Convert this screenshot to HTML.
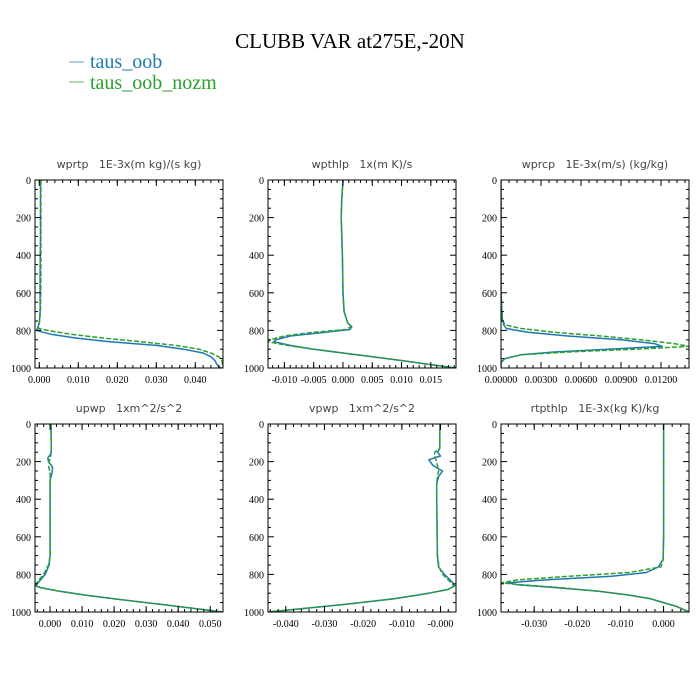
<!DOCTYPE html>
<html><head><meta charset="utf-8"><style>
body{margin:0;background:#fff;width:700px;height:700px;overflow:hidden}
svg{display:block}
.pt{white-space:pre}
</style></head><body>
<svg id="chart" width="700" height="700" xmlns="http://www.w3.org/2000/svg">
<text x="350" y="48" text-anchor="middle" font-family="Liberation Serif, serif" font-size="21" fill="#000">CLUBB VAR at275E,-20N</text>
<g>
<line x1="69" y1="62" x2="84" y2="62" stroke="#7aaed6" stroke-width="1.2"/>
<text x="90" y="68" font-family="Liberation Serif, serif" font-size="20" fill="#1f77b4">taus_oob</text>
<line x1="69" y1="82" x2="84" y2="82" stroke="#7cc27c" stroke-width="1.2"/>
<text x="90" y="89" font-family="Liberation Serif, serif" font-size="20" fill="#2ca02c">taus_oob_nozm</text>
</g>
</svg>
<script>
// panel 1 wprtp
const lev1=[0,100,300,500,700,760,790,800,810,820,840,860,880,900,920,940,960,980,1000];
const blue1=[0.0003,0.0003,0.0003,0.0002,0.0002,0.0,-0.0005,-0.0006,0.001,0.003,0.009,0.018,0.030,0.037,0.042,0.044,0.045,0.0455,0.0465];
const green1=[0.0004,0.0004,0.0004,0.0004,0.0003,0.0,-0.0002,0.002,0.005,0.008,0.016,0.026,0.035,0.041,0.044,0.046,0.0468,0.047,0.047];
// panel 2 wpthlp
const lev2=[0,100,200,400,600,700,760,780,795,810,830,850,860,880,900,920,940,960,980,1000];
const blue2=[0.0,-0.0002,-0.0003,-0.0001,0.0,0.0002,0.0008,0.0015,0.0012,-0.003,-0.009,-0.0115,-0.0118,-0.009,-0.005,0.0,0.005,0.010,0.0145,0.0193];
const green2=[0.0,-0.0002,-0.0003,-0.0001,0.0,0.0002,0.0008,0.0014,0.0005,-0.005,-0.010,-0.0125,-0.0128,-0.0095,-0.005,0.0,0.005,0.010,0.0145,0.0193];
// panel 3 wprcp
const lev3=[0,300,600,740,770,790,810,830,850,870,885,900,915,930,950,970,1000];
const blue3=[0,0,0,0.0001,0.0002,0.0004,0.002,0.005,0.009,0.0115,0.0121,0.008,0.004,0.0015,0.0003,0.0,0.0];
const green3=[0,0,0,0.0001,0.0003,0.0015,0.004,0.0075,0.0105,0.013,0.0141,0.010,0.005,0.0015,0.0003,0.0,0.0];
// panel 4 upwp
const lev4=[0,140,160,180,200,230,260,300,400,700,750,800,830,860,870,890,910,930,960,1000];
const blue4=[0.0003,0.0004,0.0002,-0.0007,-0.0005,0.0008,0.0006,0.0,0.0,0.0,-0.0003,-0.0015,-0.003,-0.0045,-0.003,0.003,0.011,0.020,0.035,0.054];
const green4=[0.0003,0.0004,0.0003,0.0,-0.0002,-0.0004,0.0,0.0,0.0,0.0,-0.0005,-0.002,-0.0035,-0.0047,-0.003,0.003,0.011,0.020,0.035,0.054];
// panel 5 vpwp
const lev5=[0,130,150,170,190,220,250,280,320,400,700,760,800,840,860,880,900,930,960,1000];
const blue5=[-0.0002,-0.0002,-0.0008,0.0,-0.003,-0.002,0.0005,-0.0005,-0.001,-0.001,-0.0008,-0.0005,0.001,0.003,0.0037,0.002,-0.003,-0.012,-0.025,-0.0446];
const green5=[-0.0002,-0.0002,-0.0015,-0.0015,-0.0012,-0.0008,-0.0005,-0.0008,-0.001,-0.001,-0.0008,-0.0004,0.0005,0.0025,0.0035,0.002,-0.003,-0.012,-0.025,-0.0446];
// panel 6 rtpthlp
const lev6=[0,300,600,720,760,790,810,830,845,855,870,890,910,930,950,970,1000];
const blue6=[0,0,0,-0.0001,-0.0012,-0.004,-0.012,-0.028,-0.036,-0.034,-0.025,-0.015,-0.008,-0.003,0.0,0.003,0.0059];
const green6=[0,0,0,-0.0001,-0.0006,-0.008,-0.022,-0.034,-0.0377,-0.033,-0.024,-0.015,-0.008,-0.003,0.0,0.003,0.0059];
// titles and tick labels
const titles=["wprtp   1E-3x(m kg)/(s kg)","wpthlp   1x(m K)/s","wprcp   1E-3x(m/s) (kg/kg)","upwp   1xm^2/s^2","vpwp   1xm^2/s^2","rtpthlp   1E-3x(kg K)/kg"];
const yTicks=[0,200,400,600,800,1000];
const xTicks1=[0,0.01,0.02,0.03,0.04];const xLab1=["0.000","0.010","0.020","0.030","0.040"];
const xTicks2=[-0.01,-0.005,0,0.005,0.01,0.015];const xLab2=["-0.010","-0.005","0.000","0.005","0.010","0.015"];
const xTicks3=[0,0.003,0.006,0.009,0.012];const xLab3=["0.00000","0.00300","0.00600","0.00900","0.01200"];
const xTicks4=[0,0.01,0.02,0.03,0.04,0.05];const xLab4=["0.000","0.010","0.020","0.030","0.040","0.050"];
const xTicks5=[-0.04,-0.03,-0.02,-0.01,0];const xLab5=["-0.040","-0.030","-0.020","-0.010","-0.000"];
const xTicks6=[-0.03,-0.02,-0.01,0];const xLab6=["-0.030","-0.020","-0.010","0.000"];

const NS="http://www.w3.org/2000/svg";
const svg=document.getElementById('chart');
function mk(tag,attrs,parent){const e=document.createElementNS(NS,tag);for(const k in attrs)e.setAttribute(k,attrs[k]);(parent||svg).appendChild(e);return e;}
const panels=[
 {x0:35,y0:180,xmin:-0.0011,xmax:0.0471,minor:0.002,lev:lev1,b:blue1,g:green1,xt:xTicks1,xl:xLab1},
 {x0:268,y0:180,xmin:-0.0128,xmax:0.0193,minor:0.001,lev:lev2,b:blue2,g:green2,xt:xTicks2,xl:xLab2},
 {x0:501,y0:180,xmin:0,xmax:0.0141,minor:0.0006,lev:lev3,b:blue3,g:green3,xt:xTicks3,xl:xLab3},
 {x0:35,y0:424,xmin:-0.0047,xmax:0.054,minor:0.002,lev:lev4,b:blue4,g:green4,xt:xTicks4,xl:xLab4},
 {x0:268,y0:424,xmin:-0.0446,xmax:0.004,minor:0.002,lev:lev5,b:blue5,g:green5,xt:xTicks5,xl:xLab5},
 {x0:501,y0:424,xmin:-0.0377,xmax:0.0059,minor:0.002,lev:lev6,b:blue6,g:green6,xt:xTicks6,xl:xLab6}
];
const W=188,H=188;
panels.forEach((P,i)=>{
 const g=mk('g',{});
 
 
 const sx=v=>P.x0+(v-P.xmin)/(P.xmax-P.xmin)*W;
 const sy=p=>P.y0+p/1000*H;
 const t=mk('text',{x:P.x0+W/2,y:P.y0-12,'text-anchor':'middle','font-family':'DejaVu Sans, sans-serif','font-size':'11','fill':'#444','class':'pt'},g);
 t.textContent=titles[i];
 
 
 const clip=mk('clipPath',{id:'c'+i},g);mk('rect',{x:P.x0,y:P.y0,width:W,height:H},clip);
 [[P.b,'#1f77b4',''],[P.g,'#2ca02c','5,2']].forEach((s,k)=>{
  const pts=s[0].map((v,j)=>sx(v).toFixed(1)+','+sy(P.lev[j]).toFixed(1)).join(' ');
  const pl=mk('polyline',{points:pts,fill:'none',stroke:s[1],'stroke-width':'1.5','stroke-linejoin':'round','clip-path':'url(#c'+i+')'},g);
  if(s[2])pl.setAttribute('stroke-dasharray',s[2]);
  
  
 });
 const fr=mk('rect',{x:P.x0,y:P.y0,width:W,height:H,fill:'none',stroke:'#000','stroke-width':'1'},g);
 
 
 for(let p=0;p<=1000;p+=50){
  const len=(p%200===0)?6:3;const y=sy(p);
  mk('line',{x1:P.x0,y1:y,x2:P.x0+len,y2:y,stroke:'#000','stroke-width':'1'},g);
  mk('line',{x1:P.x0+W,y1:y,x2:P.x0+W-len,y2:y,stroke:'#000','stroke-width':'1'},g);
 }
 yTicks.forEach(p=>{
  const tl=mk('text',{x:P.x0-4,y:sy(p)+4,'text-anchor':'end','font-family':'Liberation Serif, serif','font-size':'10'},g);
  tl.textContent=String(p);
  
  
 });
 const start=Math.ceil(P.xmin/P.minor-1e-6);
 for(let k=start;k*P.minor<=P.xmax+1e-9;k++){
  const v=k*P.minor;const x=sx(v);
  mk('line',{x1:x,y1:P.y0+H,x2:x,y2:P.y0+H-3,stroke:'#000','stroke-width':'1'},g);
  mk('line',{x1:x,y1:P.y0,x2:x,y2:P.y0+3,stroke:'#000','stroke-width':'1'},g);
 }
 P.xt.forEach((v,j)=>{
  const x=sx(v);
  mk('line',{x1:x,y1:P.y0+H,x2:x,y2:P.y0+H-6,stroke:'#000','stroke-width':'1'},g);
  mk('line',{x1:x,y1:P.y0,x2:x,y2:P.y0+6,stroke:'#000','stroke-width':'1'},g);
  const tl=mk('text',{x:x,y:P.y0+H+15,'text-anchor':'middle','font-family':'Liberation Serif, serif','font-size':'10'},g);
  tl.textContent=P.xl[j];
  
  
 });
});
</script>
</body></html>
